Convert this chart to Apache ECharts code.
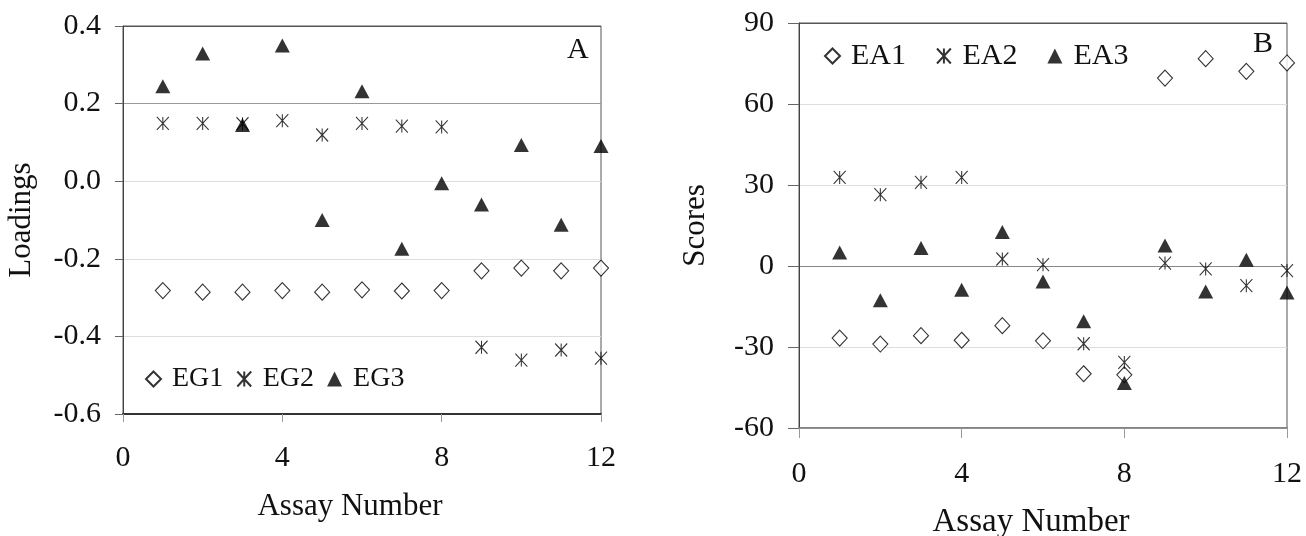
<!DOCTYPE html>
<html>
<head>
<meta charset="utf-8">
<script src="https://cdn.jsdelivr.net/npm/echarts@6/dist/echarts.min.js"></script>
<style>html,body{margin:0;padding:0;background:#fff}#c{width:1306px;height:536px}</style>
</head>
<body>
<div id="c"></div>
<script>
const assays = [1,2,3,4,5,6,7,8,9,10,11,12];
const xTicks = [0,4,8,12];
const yTicksA = [-0.6,-0.4,-0.2,0.0,0.2,0.4];
const yTicksB = [-60,-30,0,30,60,90];
const EG1 = [-0.282,-0.286,-0.286,-0.282,-0.286,-0.280,-0.283,-0.282,-0.231,-0.224,-0.231,-0.224];
const EG2 = [0.149,0.149,0.148,0.156,0.119,0.149,0.142,0.140,-0.428,-0.461,-0.435,-0.456];
const EG3 = [0.245,0.329,0.145,0.350,-0.100,0.232,-0.174,-0.005,-0.060,0.093,-0.112,0.091];
const EA1 = [-26.7,-28.9,-25.8,-27.5,-22.1,-27.7,-39.9,-40.3,69.6,76.8,72.1,75.2];
const EA2 = [32.8,26.4,31.0,32.8,2.6,0.5,-28.8,-35.7,1.1,-1.1,-7.3,-1.7];
const EA3 = [5.0,-12.7,6.7,-8.8,12.6,-5.7,-20.5,-43.3,7.6,-9.4,2.3,-9.8];
const namesA = ['EG1','EG2','EG3'];
const namesB = ['EA1','EA2','EA3'];

const FONT = 'Liberation Serif';
const pts = v => assays.map((x,i)=>[x,v[i]]);
const STAR = 'path://M0,0L12,13M12,0L0,13M6,0L6,13';
const sym = [
  {symbol:'diamond', symbolSize:[15,16], itemStyle:{color:'#fff',borderColor:'#000',borderWidth:1.1}},
  {symbol:STAR, symbolSize:[12,13], itemStyle:{color:'#000',borderColor:'#000',borderWidth:1.1}},
  {symbol:'triangle', symbolSize:[15,14], itemStyle:{color:'#000',borderColor:'#000',borderWidth:0}}
];
function ser(name, data, gi, k){
  return Object.assign({type:'scatter', name, data:pts(data), xAxisIndex:gi, yAxisIndex:gi, clip:false, z:3+k}, sym[k]);
}
const xAx = (gi, tickLen, margin, nameGap, nameSize, pad, axColor, axW) => ({
  type:'value', gridIndex:gi, min:xTicks[0], max:xTicks[xTicks.length-1], interval:4,
  name:'Assay Number', nameLocation:'middle', nameGap:nameGap,
  nameTextStyle:{fontFamily:FONT,fontSize:nameSize,color:'#111',padding:pad},
  axisLine:{show:true,onZero:false,lineStyle:{color:axColor,width:axW}},
  axisTick:{show:true,length:tickLen,lineStyle:{color:'#999'}},
  axisLabel:{fontFamily:FONT,fontSize:30,color:'#111',margin:margin},
  splitLine:{show:false}
});
const yAx = (gi, ticks, interval, name, nameGap, fmt, splitColors, margin, tickLen) => ({
  type:'value', gridIndex:gi, min:ticks[0], max:ticks[ticks.length-1], interval:interval,
  name:name, nameLocation:'middle', nameGap:nameGap,
  nameTextStyle:{fontFamily:FONT,fontSize:31,color:'#111'},
  axisLine:{show:true,onZero:false,lineStyle:{color:'#444',width:1}},
  axisTick:{show:true,length:tickLen,lineStyle:{color:'#666'}},
  axisLabel:{fontFamily:FONT,fontSize:30,color:'#111',margin:margin,formatter:fmt},
  splitLine:{show:true,lineStyle:{color:splitColors,width:1.2}}
});

const chart = echarts.init(document.getElementById('c'), null, {renderer:'canvas'});
chart.setOption({
  backgroundColor:'#fff',
  animation:false,
  grid:[
    {left:123, right:705, top:26, height:388, outerBoundsMode:'none', containLabel:false, show:true, borderColor:'#555', borderWidth:1, backgroundColor:'transparent'},
    {left:799, right:19, top:23, height:405, outerBoundsMode:'none', containLabel:false, show:true, borderColor:'#555', borderWidth:1, backgroundColor:'transparent'}
  ],
  xAxis:[
    xAx(0, 8, 29, 77, 31, [0,24,0,0], '#333', 2),
    xAx(1, 10, 31, 78, 33, [0,24,0,0], '#777', 1.5)
  ],
  yAxis:[
    yAx(0, yTicksA, 0.2, 'Loadings', 86, v=>v.toFixed(1), ['#ddd','#ddd','#ddd','#ddd','#999','#555'], 22, 8),
    yAx(1, yTicksB, 30, 'Scores', 88, v=>String(v), ['#ddd','#ddd','#888','#ddd','#ddd','#555'], 25, 11)
  ],
  title:[
    {text:'A', left:562, top:30, textStyle:{fontFamily:FONT,fontSize:30,fontWeight:'normal',color:'#111'}},
    {text:'B', left:1248, top:24, textStyle:{fontFamily:FONT,fontSize:30,fontWeight:'normal',color:'#111'}}
  ],
  legend:[
    {data:namesA, left:140, top:360, orient:'horizontal', itemWidth:15, itemHeight:15, itemGap:13,
     textStyle:{fontFamily:FONT,fontSize:28,color:'#111',padding:[0,0,0,6]}},
    {data:namesB, left:819, top:36, orient:'horizontal', itemWidth:15, itemHeight:15, itemGap:30,
     textStyle:{fontFamily:FONT,fontSize:30,color:'#111',padding:[0,0,0,6]}}
  ],
  series:[
    ser(namesA[0], EG1, 0, 0), ser(namesA[1], EG2, 0, 1), ser(namesA[2], EG3, 0, 2),
    ser(namesB[0], EA1, 1, 0), ser(namesB[1], EA2, 1, 1), ser(namesB[2], EA3, 1, 2)
  ]
});
</script>
</body>
</html>
